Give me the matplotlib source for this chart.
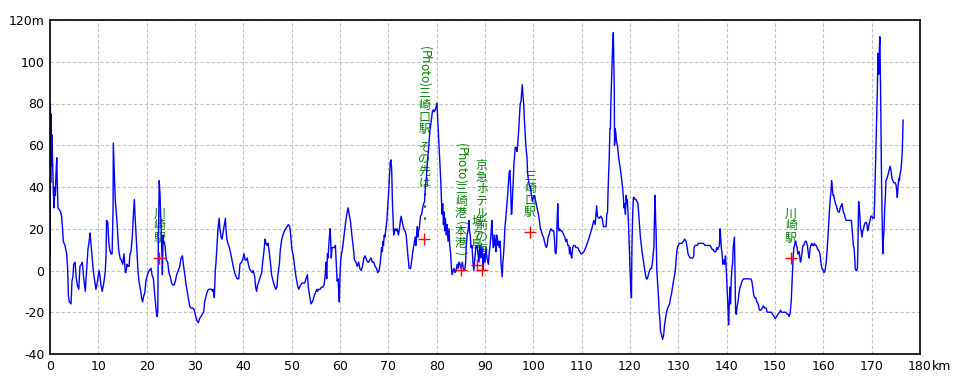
import matplotlib
matplotlib.use("Agg")
import matplotlib.pyplot as plt
import numpy as np

plt.rcParams['font.family'] = ['Liberation Sans Narrow', 'DejaVu Sans']

# elevation profile (distance km, elevation m)
profile_0_55 = [
    (0.0, 7), (0.07, 80), (0.14, 42), (0.2, 75), (0.35, 50), (0.4, 65), (0.55, 51), (0.7, 37), (0.85, 30), (1.0, 40),
    (1.1, 36), (1.25, 47), (1.4, 54), (1.5, 42), (1.65, 30), (1.95, 29), (2.2, 28), (2.4, 26), (2.6, 20), (2.75, 14),
    (3.1, 12), (3.45, 8), (3.65, 1), (3.8, -12), (4.0, -15), (4.35, -16), (4.55, -5), (4.75, -3), (4.9, 3), (5.2, 4),
    (5.4, -3), (5.65, -7), (5.95, -9), (6.2, 2), (6.5, 3), (6.7, 4), (6.9, -2), (7.15, -7), (7.3, -10), (7.5, -3),
    (7.65, 3), (7.85, 10), (8.15, 15), (8.3, 18), (8.5, 12), (8.7, 7), (8.95, 0), (9.25, -5), (9.5, -9), (9.7, -7),
    (9.95, -3), (10.15, 0), (10.35, -3), (10.55, -7), (10.8, -10), (11.05, -7), (11.25, -4), (11.45, 0), (11.6, 8), (11.7, 24),
    (11.95, 23), (12.15, 14), (12.35, 10), (12.6, 8), (12.85, 8), (13.05, 30), (13.1, 61), (13.25, 50), (13.4, 40), (13.5, 34),
    (13.8, 25), (14.0, 18), (14.2, 10), (14.5, 6), (14.75, 5), (15.05, 3), (15.3, 8), (15.6, -1), (15.7, -1), (15.95, 3),
    (16.15, 2), (16.35, 2), (16.55, 8), (16.75, 9), (17.05, 17), (17.25, 27), (17.45, 34), (17.6, 26), (17.8, 17), (18.0, 8),
    (18.2, 0), (18.4, -5), (18.7, -9), (18.95, -13), (19.15, -15), (19.4, -12), (19.6, -11), (19.85, -5), (20.05, -3), (20.3, -1),
    (20.55, 0), (20.9, 1), (21.1, -2), (21.4, -4), (21.6, -10), (21.8, -15), (22.0, -20), (22.15, -22), (22.3, -19), (22.4, 10),
    (22.55, 36), (22.6, 43), (22.75, 37), (22.9, 26), (23.05, 15), (23.2, 5), (23.25, -2), (23.4, 17), (23.5, 14), (23.8, 12),
    (24.05, 5), (24.35, 4), (24.6, -1), (24.9, -3), (25.15, -6), (25.45, -7), (25.65, -7), (25.95, -5), (26.2, -2),
    (26.55, 0), (26.85, 2), (27.1, 6), (27.4, 7), (27.65, 2), (27.95, -3), (28.15, -7), (28.4, -10), (28.6, -13), (28.9, -17),
    (29.15, -18), (29.6, -18), (29.85, -19), (30.15, -22), (30.4, -24), (30.7, -25), (30.95, -23), (31.25, -22), (31.5, -21), (31.8, -20),
    (32.0, -15), (32.3, -12), (32.55, -10), (32.8, -9), (33.1, -9), (33.4, -9), (33.65, -10), (33.8, -9), (34.0, -13), (34.2, 0),
    (34.35, 4), (34.55, 12), (34.75, 20), (35.0, 25), (35.15, 20), (35.4, 16), (35.6, 15), (35.8, 18), (36.0, 21), (36.3, 25),
    (36.4, 20), (36.6, 15), (36.8, 13), (37.1, 11), (37.4, 8), (37.65, 5), (37.9, 2), (38.2, -1), (38.5, -3), (38.75, -4),
    (39.05, -4), (39.3, 3), (39.6, 4), (39.85, 5), (40.15, 8), (40.35, 5), (40.6, 5), (40.8, 6), (41.05, 3), (41.25, 1),
    (41.5, 0), (41.8, -1), (42.05, 0), (42.35, -3), (42.55, -8), (42.75, -10), (42.95, -7), (43.25, -5), (43.5, -3), (43.8, -1),
    (44.05, 5), (44.3, 10), (44.5, 15), (44.7, 13), (44.9, 12), (45.1, 13), (45.3, 10), (45.6, 4), (45.85, -2), (46.15, -5),
    (46.4, -7), (46.7, -9), (46.95, -8), (47.15, -2), (47.45, 3), (47.65, 10), (47.95, 15), (48.2, 17), (48.5, 19), (48.75, 20),
    (49.05, 21), (49.3, 22), (49.6, 21), (49.8, 17), (50.05, 10), (50.35, 7), (50.6, 2), (50.9, -3), (51.2, -7), (51.45, -9),
    (51.65, -8), (51.85, -7), (52.15, -6), (52.4, -6), (52.7, -6), (52.95, -4), (53.25, -2), (53.45, -8), (53.7, -12), (54.0, -16),
    (54.3, -15), (54.55, -13), (54.85, -11), (55.2, -9),
]
profile_55_68 = [
    (55.35, -10), (55.6, -9), (55.9, -9), (56.15, -8), (56.45, -8), (56.7, -7), (56.95, -2), (57.1, 4), (57.25, -4), (57.4, 8),
    (57.55, 6), (57.65, 11), (57.8, 16), (57.95, 20), (58.1, 13), (58.2, 6), (58.35, 11), (58.65, 11), (58.9, 11), (59.05, 12),
    (59.2, 5), (59.4, -5), (59.6, -4), (59.75, -10), (59.85, -15), (60.0, -2), (60.15, 5), (60.25, 7), (60.55, 11), (60.8, 16),
    (61.1, 22), (61.35, 26), (61.65, 30), (61.9, 27), (62.2, 23), (62.45, 17), (62.75, 11), (63.0, 5), (63.3, 4), (63.55, 2),
    (63.85, 4), (64.1, 1), (64.4, 0), (64.65, 2), (64.95, 6), (65.2, 7), (65.5, 5), (65.75, 4), (65.9, 4), (66.15, 5),
    (66.45, 6), (66.7, 4), (67.0, 4), (67.25, 2), (67.55, 1),
]
profile_68_90 = [
    (67.8, -1), (68.1, 0), (68.35, 4), (68.5, 8), (68.6, 11), (68.75, 9), (68.9, 14), (69.0, 12), (69.15, 17), (69.3, 16),
    (69.5, 20), (69.7, 24), (69.85, 30), (70.0, 35), (70.2, 44), (70.4, 52), (70.55, 53), (70.7, 48), (70.85, 32), (71.0, 24),
    (71.1, 17), (71.25, 19), (71.4, 20), (71.6, 19), (71.8, 20), (72.1, 17), (72.3, 20), (72.5, 24), (72.65, 26), (72.8, 24),
    (73.0, 22), (73.2, 20), (73.45, 19), (73.7, 17), (73.9, 11), (74.1, 6), (74.3, 1), (74.6, 1), (74.8, 4), (75.0, 8),
    (75.2, 11), (75.4, 14), (75.55, 16), (75.7, 12), (75.85, 17), (76.0, 21), (76.1, 16), (76.25, 19), (76.45, 21), (76.65, 26),
    (76.9, 27), (77.1, 30), (77.3, 32), (77.5, 33), (77.65, 40), (77.85, 44), (78.05, 51), (78.35, 59), (78.6, 67), (78.9, 72),
    (79.1, 76), (79.3, 77), (79.5, 76), (79.7, 77), (79.95, 79), (80.05, 80), (80.2, 73), (80.35, 65), (80.55, 56), (80.7, 49),
    (80.85, 43), (81.0, 33), (81.1, 27), (81.25, 32), (81.4, 22), (81.55, 28), (81.65, 19), (81.8, 25), (82.0, 17), (82.15, 22),
    (82.35, 14), (82.55, 20), (82.7, 12), (82.9, 8), (83.05, 1), (83.2, -2), (83.4, 0), (83.6, 1), (83.8, -1), (84.0, 0),
    (84.25, 3), (84.45, 1), (84.65, 4), (84.85, 3), (85.05, 1), (85.3, 4), (85.5, 1), (85.7, 0), (85.85, 1), (86.0, 4),
    (86.1, 11), (86.3, 17), (86.55, 20), (86.65, 24), (86.8, 19), (86.95, 17), (87.1, 11), (87.3, 12), (87.5, 4), (87.7, 0),
    (87.9, 6), (88.1, 11), (88.35, 12), (88.55, 8), (88.75, 4), (88.95, 12), (89.15, 6), (89.4, 11), (89.6, 0), (89.8, 8),
    (90.0, 4), (90.2, 11), (90.4, 6),
]
profile_90_113 = [
    (90.7, 3), (90.85, 8), (91.05, 12), (91.3, 19), (91.4, 24), (91.55, 17), (91.7, 11), (91.85, 12), (91.95, 17), (92.1, 14),
    (92.25, 9), (92.4, 17), (92.55, 16), (92.7, 12), (92.8, 14), (92.95, 11), (93.15, 14), (93.3, 4), (93.45, 0), (93.55, -3),
    (93.7, 4), (93.85, 8), (94.0, 14), (94.1, 20), (94.3, 25), (94.55, 32), (94.75, 38), (94.9, 43), (95.0, 47), (95.15, 48),
    (95.3, 40), (95.45, 27), (95.55, 27), (95.7, 36), (95.85, 43), (96.0, 52), (96.1, 54), (96.25, 59), (96.45, 59), (96.6, 57),
    (96.75, 60), (96.9, 65), (97.0, 68), (97.15, 75), (97.3, 80), (97.45, 81), (97.6, 86), (97.7, 89), (97.85, 84), (98.0, 80),
    (98.15, 72), (98.25, 68), (98.4, 62), (98.55, 57), (98.7, 54), (98.8, 47), (98.95, 44), (99.15, 41), (99.4, 40), (99.6, 36),
    (99.8, 33), (100.0, 35), (100.2, 36), (100.4, 34), (100.6, 32), (100.85, 29), (101.05, 27), (101.25, 24), (101.45, 20), (101.65, 19),
    (101.85, 17), (102.1, 16), (102.3, 14), (102.5, 12), (102.7, 11), (102.85, 12), (103.05, 16), (103.25, 17), (103.45, 19), (103.65, 20),
    (103.9, 19), (104.1, 19), (104.2, 19), (104.35, 16), (104.5, 9), (104.65, 8), (104.8, 11), (104.9, 22), (105.05, 32), (105.2, 20),
    (105.35, 19), (105.45, 20), (105.65, 19), (105.9, 19), (106.1, 18), (106.3, 17), (106.5, 16), (106.7, 14), (106.9, 15), (107.15, 12),
    (107.35, 12), (107.5, 8), (107.6, 11), (107.8, 7), (107.95, 6), (108.15, 11), (108.35, 12), (108.6, 12), (108.8, 11), (109.0, 11),
    (109.2, 11), (109.4, 10), (109.6, 9), (109.85, 8), (110.05, 8), (110.45, 9), (110.85, 11), (111.3, 14), (111.7, 17), (112.1, 20),
    (112.5, 24), (112.8, 22), (113.1, 31),
]
profile_113_136 = [
    (113.25, 26), (113.6, 25), (113.95, 26), (114.25, 25), (114.5, 21), (114.8, 21), (115.05, 21), (115.2, 27), (115.35, 28), (115.5, 41),
    (115.7, 54), (115.85, 68), (115.95, 68), (116.05, 81), (116.2, 93), (116.3, 100), (116.4, 107), (116.55, 114), (116.6, 107), (116.75, 86),
    (116.8, 60), (116.95, 68), (117.1, 65), (117.2, 62), (117.45, 59), (117.65, 54), (117.85, 51), (118.05, 48), (118.25, 44), (118.45, 40),
    (118.6, 36), (118.75, 30), (118.9, 32), (119.05, 27), (119.2, 36), (119.35, 32), (119.45, 34), (119.6, 27), (119.7, 22), (119.85, 11),
    (120.0, 1), (120.15, -8), (120.3, -13), (120.4, 11), (120.55, 27), (120.7, 35), (120.85, 35), (121.05, 34), (121.25, 34), (121.45, 33),
    (121.65, 32), (121.8, 27), (121.95, 22), (122.15, 16), (122.35, 12), (122.55, 8), (122.8, 4), (123.0, 1), (123.2, -2), (123.4, -4),
    (123.6, -4), (123.8, -2), (124.05, 0), (124.25, 1), (124.45, 1), (124.65, 4), (124.8, 8), (124.95, 11), (125.05, 24), (125.2, 36),
    (125.3, 24), (125.4, 19), (125.55, 0), (125.75, -7), (125.9, -13), (126.05, -20), (126.2, -24), (126.3, -29), (126.55, -31), (126.75, -33),
    (126.95, -31), (127.15, -26), (127.35, -23), (127.55, -20), (127.8, -18), (128.0, -17), (128.2, -16), (128.4, -13), (128.6, -11), (128.8, -8),
    (129.0, -5), (129.25, -2), (129.4, 1), (129.5, 4), (129.65, 8), (129.8, 11), (130.0, 12), (130.2, 13), (130.5, 13), (130.75, 13),
    (131.05, 14), (131.3, 15), (131.6, 14), (131.75, 12), (131.9, 10), (132.0, 8), (132.2, 7), (132.45, 6), (132.7, 6), (133.0, 6),
    (133.2, 7), (133.25, 11), (133.45, 12), (133.7, 12), (133.9, 12), (134.1, 13), (134.4, 13), (134.65, 13), (134.95, 13), (135.2, 13),
    (135.5, 12), (135.75, 12), (136.0, 12),
]
profile_136_159 = [
    (136.25, 12), (136.6, 12), (136.8, 11), (137.05, 10), (137.25, 10), (137.45, 9), (137.75, 9), (137.95, 11), (138.15, 10), (138.3, 11),
    (138.5, 12), (138.65, 20), (138.75, 16), (138.9, 11), (139.05, 8), (139.2, 3), (139.3, 4), (139.45, 5), (139.6, 3), (139.75, 7),
    (139.85, 4), (140.0, -4), (140.15, -12), (140.25, -16), (140.4, -26), (140.55, -15), (140.7, -8), (140.8, -16), (140.95, -4), (141.1, 1),
    (141.25, 4), (141.35, 11), (141.5, 14), (141.6, 16), (141.7, 3), (141.85, -20), (142.0, -21), (142.1, -18), (142.35, -15), (142.55, -11),
    (142.75, -8), (142.95, -7), (143.2, -5), (143.5, -4), (143.75, -4), (144.1, -4), (144.45, -4), (144.75, -4), (145.0, -4), (145.2, -5),
    (145.4, -8), (145.6, -12), (145.8, -13), (146.0, -13), (146.25, -15), (146.5, -16), (146.8, -19), (147.05, -19), (147.35, -18), (147.6, -17),
    (147.9, -18), (148.15, -18), (148.4, -20), (148.7, -20), (148.95, -20), (149.25, -20), (149.5, -21), (149.8, -22), (150.05, -23), (150.35, -22),
    (150.6, -21), (150.95, -20), (151.15, -19), (151.35, -20), (151.55, -20), (151.8, -20), (152.0, -20), (152.25, -20), (152.55, -21), (152.8, -21),
    (152.95, -22), (153.15, -20), (153.35, -15), (153.5, -7), (153.65, 0), (153.75, 6), (153.9, 11), (154.05, 12), (154.2, 14), (154.3, 14),
    (154.45, 12), (154.6, 11), (154.7, 8), (154.85, 8), (155.0, 9), (155.15, 6), (155.25, 4), (155.4, 5), (155.55, 8), (155.7, 11),
    (155.8, 12), (155.95, 12), (156.1, 13), (156.25, 14), (156.45, 14), (156.6, 13), (156.7, 12), (156.8, 10), (156.9, 8), (157.05, 6),
    (157.2, 9), (157.35, 12), (157.45, 12), (157.6, 13), (157.8, 12), (158.0, 12), (158.15, 13), (158.35, 12), (158.55, 12), (158.7, 11),
    (158.85, 10),
]
profile_159_177 = [
    (158.95, 10), (159.15, 9), (159.3, 8), (159.5, 4), (159.7, 1), (159.95, 0), (160.15, -1), (160.35, 0), (160.6, 4), (160.85, 12),
    (161.05, 20), (161.25, 28), (161.45, 35), (161.6, 38), (161.7, 43), (161.85, 40), (162.0, 36), (162.15, 36), (162.3, 34), (162.5, 32),
    (162.7, 31), (162.9, 29), (163.1, 28), (163.3, 28), (163.5, 30), (163.7, 31), (163.85, 32), (164.0, 30), (164.15, 28), (164.35, 27),
    (164.55, 25), (164.75, 24), (164.95, 24), (165.15, 24), (165.4, 24), (165.6, 24), (165.8, 24), (165.95, 20), (166.05, 17), (166.2, 12),
    (166.35, 11), (166.5, 6), (166.6, 1), (166.75, 0), (166.9, 0), (167.05, 1), (167.15, 11), (167.3, 33), (167.45, 30), (167.6, 25),
    (167.7, 20), (167.85, 19), (168.0, 16), (168.15, 19), (168.3, 20), (168.5, 22), (168.7, 23), (168.9, 23), (169.05, 22), (169.15, 19),
    (169.3, 20), (169.45, 22), (169.65, 24), (169.85, 26), (170.05, 26), (170.25, 25), (170.5, 25), (170.6, 32), (170.75, 46), (170.9, 59),
    (171.05, 75), (171.2, 89), (171.3, 104), (171.45, 94), (171.6, 107), (171.7, 112), (171.85, 86), (172.0, 51), (172.15, 27), (172.3, 8),
    (172.4, 14), (172.55, 19), (172.7, 30), (172.85, 36), (172.95, 43), (173.15, 44), (173.4, 46), (173.6, 48), (173.8, 50), (174.0, 48),
    (174.2, 44), (174.4, 43), (174.6, 42), (174.85, 42), (175.05, 41), (175.2, 38), (175.3, 35), (175.45, 40), (175.6, 44), (175.75, 43),
    (175.85, 46), (176.05, 48), (176.2, 52), (176.35, 58), (176.5, 72),
]

# waypoints: km, elevation, label
point_km = [22.6, 77.45, 85.0, 88.4, 89.3, 99.3, 153.3]
point_elev = [6, 15, 0.3, 2.7, 0.3, 18.4, 6]
point_names = ["川崎駅", "(Photo)三崎口駅 その先は・・・", "(Photo)三崎港(本港)", "城ヶ島",
               "京急ホテル前の海", "三崎口駅", "川崎駅"]

x_ticks = list(range(0, 181, 10))
y_ticks = list(range(-40, 121, 20))

cjk = ['Noto Sans CJK JP', 'DejaVu Sans']


def vertical_label(ax, x, y, text, gap=14, cell=12):
    """縦書き: 漢字かなは正立、半角は右90度回転。マーカーの上に下から積む"""
    off = gap
    for ch in reversed(text):
        half = ord(ch) < 128
        adv = cell / 2 if half else cell
        if ch != ' ':
            ax.annotate(ch, (x, y), xytext=(0, (off + adv / 2) * 0.72), textcoords='offset points',
                        ha='center', va='center', rotation=-90 if half else 0,
                        color='#008000', fontsize=8.6, family=cjk, zorder=1.5)
        off += adv


data = np.array(profile_0_55 + profile_55_68 + profile_68_90 + profile_90_113
                + profile_113_136 + profile_136_159 + profile_159_177)

fig = plt.figure(figsize=(9.6, 3.84), dpi=100)
ax = fig.add_axes([50 / 960, 30 / 384, 870 / 960, 334 / 384])

ax.plot(data[:, 0], data[:, 1], color='#0000ff', lw=1.0, zorder=2)
ax.plot(point_km, point_elev, '+', color='#ff0000', ms=8.6, mew=1.0, zorder=3)
for k, e, name in zip(point_km, point_elev, point_names):
    vertical_label(ax, k, e, name)

ax.set_xlim(0, 180)
ax.set_ylim(-40, 120)
ax.set_xticks(x_ticks)
ax.set_xticklabels([str(v) for v in x_ticks])
ax.set_yticks(y_ticks)
ax.set_yticklabels([str(v) for v in y_ticks[:-1]] + [str(y_ticks[-1]) + 'm'])
ax.annotate('km', (180, -40), xytext=(8.6, -4), textcoords='offset points',
            ha='left', va='top', fontsize=9, annotation_clip=False)
ax.tick_params(length=0, labelsize=9, pad=4)
ax.grid(True, color='#c0c0c0', linestyle=(0, (3, 2)), lw=0.8)
ax.set_axisbelow(True)
for s in ax.spines.values():
    s.set_linewidth(1.2)
    s.set_color('black')

fig.savefig('out.png', dpi=100)
